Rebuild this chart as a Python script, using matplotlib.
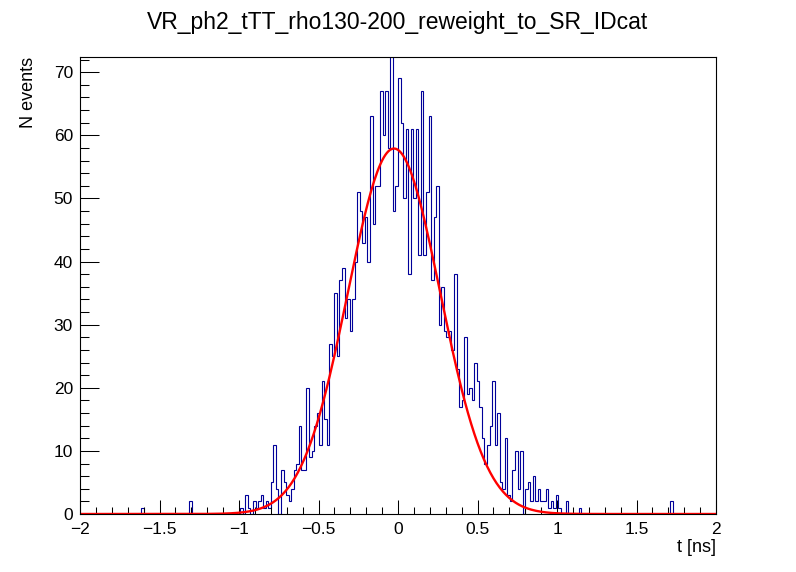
import numpy as np
import matplotlib
matplotlib.use("Agg")
import matplotlib.pyplot as plt
from matplotlib.ticker import MultipleLocator, FuncFormatter

plt.rcParams['font.family'] = ['Liberation Sans', 'DejaVu Sans']

# histogram: 250 bins between -2 and 2 ns
t_min, t_max, n_bins = -2.0, 2.0, 250

# bins 60 ... 197 (counts)
core_first_bin = 60
core_counts = [
    0, 0, 0, 1, 0, 3, 1, 0, 2, 1,
    2, 3, 1, 2, 1, 5, 11, 4, 0, 7,
    5, 3, 2, 4, 7, 8, 14, 7, 7, 20,
    9, 10, 14, 16, 11, 21, 15, 11, 27, 25,
    35, 25, 37, 39, 31, 34, 29, 34, 40, 51,
    48, 43, 47, 40, 63, 46, 52, 52, 67, 60,
    67, 58, 73, 48, 52, 69, 62, 50, 61, 38,
    61, 50, 61, 41, 67, 41, 51, 63, 37, 47,
    52, 30, 36, 29, 28, 29, 26, 38, 23, 17,
    18, 28, 19, 20, 18, 24, 21, 17, 12, 8,
    11, 14, 21, 11, 16, 5, 4, 12, 3, 2,
    7, 10, 4, 10, 0, 4, 5, 2, 6, 2,
    4, 2, 2, 4, 1, 2, 1, 3, 1, 0,
    0, 2, 0, 0, 0, 0, 1, 0,
]
# isolated entries far in the tails
tail_bins = [24, 43, 232]
tail_counts = [1, 2, 2]

# gaussian fit parameters
fit_const = 57.9
fit_mean = -0.025
fit_sigma = 0.29

counts = np.zeros(n_bins)
counts[core_first_bin:core_first_bin + len(core_counts)] = core_counts
counts[tail_bins] = tail_counts
edges = np.linspace(t_min, t_max, n_bins + 1)

fig = plt.figure(figsize=(7.96, 5.72), dpi=100)
ax = fig.add_axes([80 / 796, 1 - 514 / 572, 636 / 796, 457 / 572])

ax.stairs(counts, edges, color='#000099', lw=0.8, baseline=0)

tf = np.linspace(t_min, t_max, 401)
ax.plot(tf, fit_const * np.exp(-0.5 * ((tf - fit_mean) / fit_sigma) ** 2),
        color='#ff0000', lw=1.7)

ax.set_xlim(t_min, t_max)
ax.set_ylim(0, 72.4)

ax.xaxis.set_major_locator(MultipleLocator(0.5))
ax.xaxis.set_minor_locator(MultipleLocator(0.1))
ax.yaxis.set_major_locator(MultipleLocator(10))
ax.yaxis.set_minor_locator(MultipleLocator(2))
fmt = FuncFormatter(lambda v, p: ('%g' % v).replace('-', '\u2212'))
ax.xaxis.set_major_formatter(fmt)
ax.yaxis.set_major_formatter(fmt)

ax.tick_params(axis='both', which='both', direction='in', top=False, right=False,
               width=0.75, labelsize=12.5)
ax.tick_params(axis='x', which='major', length=9.9, pad=6)
ax.tick_params(axis='x', which='minor', length=5)
ax.tick_params(axis='y', which='major', length=13.7, pad=5)
ax.tick_params(axis='y', which='minor', length=6.8)

for s in ax.spines.values():
    s.set_linewidth(0.8)

ax.set_xlabel('t [ns]', fontsize=13, loc='right', labelpad=1)
ax.set_ylabel('N events', fontsize=13, loc='top', labelpad=12)

fig.text(0.5, 1 - 22 / 572, 'VR_ph2_tTT_rho130-200_reweight_to_SR_IDcat',
         ha='center', va='center', fontsize=16.5)

fig.savefig('out.png', dpi=100)
